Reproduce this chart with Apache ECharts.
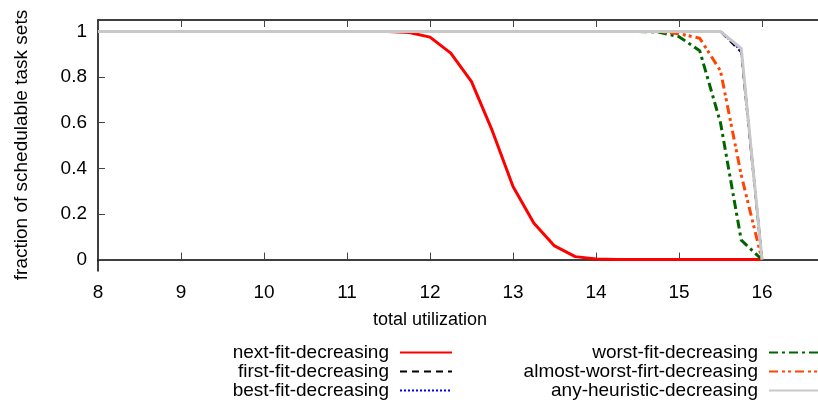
<!DOCTYPE html>
<html>
<head>
<meta charset="utf-8">
<script src="https://cdn.jsdelivr.net/npm/echarts@6/dist/echarts.min.js"></script>
<style>
  html, body { margin: 0; padding: 0; background: #fff; }
  #chart { width: 818px; height: 400px; }
</style>
</head>
<body>
<div id="chart"></div>
<script>
// total utilization (x), step 0.25
var utilization = [8, 8.25, 8.5, 8.75, 9, 9.25, 9.5, 9.75, 10, 10.25, 10.5, 10.75,
    11, 11.25, 11.5, 11.75, 12, 12.25, 12.5, 12.75, 13, 13.25, 13.5, 13.75,
    14, 14.25, 14.5, 14.75, 15, 15.25, 15.5, 15.75, 16];

// fraction of schedulable task sets
var nextFit = [1, 1, 1, 1, 1, 1, 1, 1, 1, 1, 1, 1,
    1, 1, 1, 0.995, 0.975, 0.905, 0.78, 0.565, 0.32, 0.16, 0.06, 0.013,
    0.003, 0, 0, 0, 0, 0, 0, 0, 0];
var firstFit = [1, 1, 1, 1, 1, 1, 1, 1, 1, 1, 1, 1,
    1, 1, 1, 1, 1, 1, 1, 1, 1, 1, 1, 1,
    1, 1, 1, 1, 1, 1, 1, 0.91, 0];
var bestFit = [1, 1, 1, 1, 1, 1, 1, 1, 1, 1, 1, 1,
    1, 1, 1, 1, 1, 1, 1, 1, 1, 1, 1, 1,
    1, 1, 1, 1, 1, 1, 1, 0.915, 0];
var worstFit = [1, 1, 1, 1, 1, 1, 1, 1, 1, 1, 1, 1,
    1, 1, 1, 1, 1, 1, 1, 1, 1, 1, 1, 1,
    1, 1, 1, 0.997, 0.977, 0.915, 0.6, 0.085, 0];
var almostWorstFit = [1, 1, 1, 1, 1, 1, 1, 1, 1, 1, 1, 1,
    1, 1, 1, 1, 1, 1, 1, 1, 1, 1, 1, 1,
    1, 1, 1, 0.999, 0.99, 0.97, 0.827, 0.37, 0];
var anyHeuristic = [1, 1, 1, 1, 1, 1, 1, 1, 1, 1, 1, 1,
    1, 1, 1, 1, 1, 1, 1, 1, 1, 1, 1, 1,
    1, 1, 1, 1, 1, 1, 1, 0.925, 0];

var yTicks = [0, 0.2, 0.4, 0.6, 0.8, 1];

var fontFamily = "Liberation Sans, Arial, Helvetica, sans-serif";

function pairs(vals) {
    return utilization.map(function (x, i) { return [x, vals[i]]; });
}

function lineSeries(name, vals, color, width, type) {
    return {
        name: name,
        type: "line",
        data: pairs(vals),
        symbol: "none",
        showSymbol: false,
        animation: false,
        lineStyle: { color: color, width: width, type: type },
        itemStyle: { color: color }
    };
}

var chart = echarts.init(document.getElementById("chart"));

var legendBase = {
    orient: "vertical",
    align: "right",
    top: 343,
    padding: 0,
    itemGap: 0,
    itemWidth: 52,
    itemHeight: 18,
    itemStyle: { opacity: 0 },
    textStyle: { fontFamily: fontFamily, fontSize: 19, lineHeight: 18, color: "#000", padding: [0, 6, 0, 0] }
};

var option = {
    backgroundColor: "#fff",
    animation: false,
    grid: { left: 98, right: -27, top: 20, bottom: 129, outerBoundsMode: "none", containLabel: false },
    legend: [
        Object.assign({}, legendBase, {
            right: 365,
            data: ["next-fit-decreasing", "first-fit-decreasing", "best-fit-decreasing"]
        }),
        Object.assign({}, legendBase, {
            right: -4,
            data: ["worst-fit-decreasing", "almost-worst-firt-decreasing", "any-heuristic-decreasing"]
        })
    ],
    xAxis: [
        {
            type: "value",
            min: 8,
            max: 17,
            interval: 1,
            position: "bottom",
            axisLine: { lineStyle: { color: "#000", width: 1.5 } },
            axisTick: { inside: true, length: 7, lineStyle: { color: "#444" } },
            axisLabel: { fontFamily: fontFamily, fontSize: 19, color: "#000", margin: 12 },
            splitLine: { show: false }
        },
        {
            type: "value",
            min: 8,
            max: 17,
            interval: 1,
            position: "top",
            axisLine: { lineStyle: { color: "#000", width: 1.5 } },
            axisTick: { inside: true, length: 7, lineStyle: { color: "#444" } },
            axisLabel: { show: false },
            splitLine: { show: false }
        }
    ],
    yAxis: {
        type: "value",
        min: -0.05,
        max: 1.05,
        axisLine: { show: true, lineStyle: { color: "#000", width: 1.5 } },
        axisTick: { show: true, inside: true, length: 7, lineStyle: { color: "#444" }, customValues: yTicks },
        axisLabel: { fontFamily: fontFamily, fontSize: 19, color: "#000", margin: 11, customValues: yTicks },
        splitLine: { show: false }
    },
    graphic: [
        {
            type: "text",
            x: 430,
            y: 320,
            style: { text: "total utilization", fontFamily: fontFamily, fontSize: 18, fill: "#000", align: "center", verticalAlign: "middle" }
        },
        {
            type: "text",
            x: 22,
            y: 145,
            rotation: Math.PI / 2,
            style: { text: "fraction of schedulable task sets", fontFamily: fontFamily, fontSize: 19, fill: "#000", align: "center", verticalAlign: "middle" }
        }
    ],
    series: [
        lineSeries("next-fit-decreasing", nextFit, "#ff0000", 3, "solid"),
        lineSeries("first-fit-decreasing", firstFit, "#000000", 2.5, [7, 5]),
        lineSeries("best-fit-decreasing", bestFit, "#0000ff", 2, [2, 2]),
        lineSeries("worst-fit-decreasing", worstFit, "#006400", 3, [9, 4, 3, 4]),
        lineSeries("almost-worst-firt-decreasing", almostWorstFit, "#ff4500", 3, [9, 4, 3, 3, 3, 4]),
        lineSeries("any-heuristic-decreasing", anyHeuristic, "#c8c8c8", 3, "solid")
    ]
};

chart.setOption(option);
</script>
</body>
</html>
